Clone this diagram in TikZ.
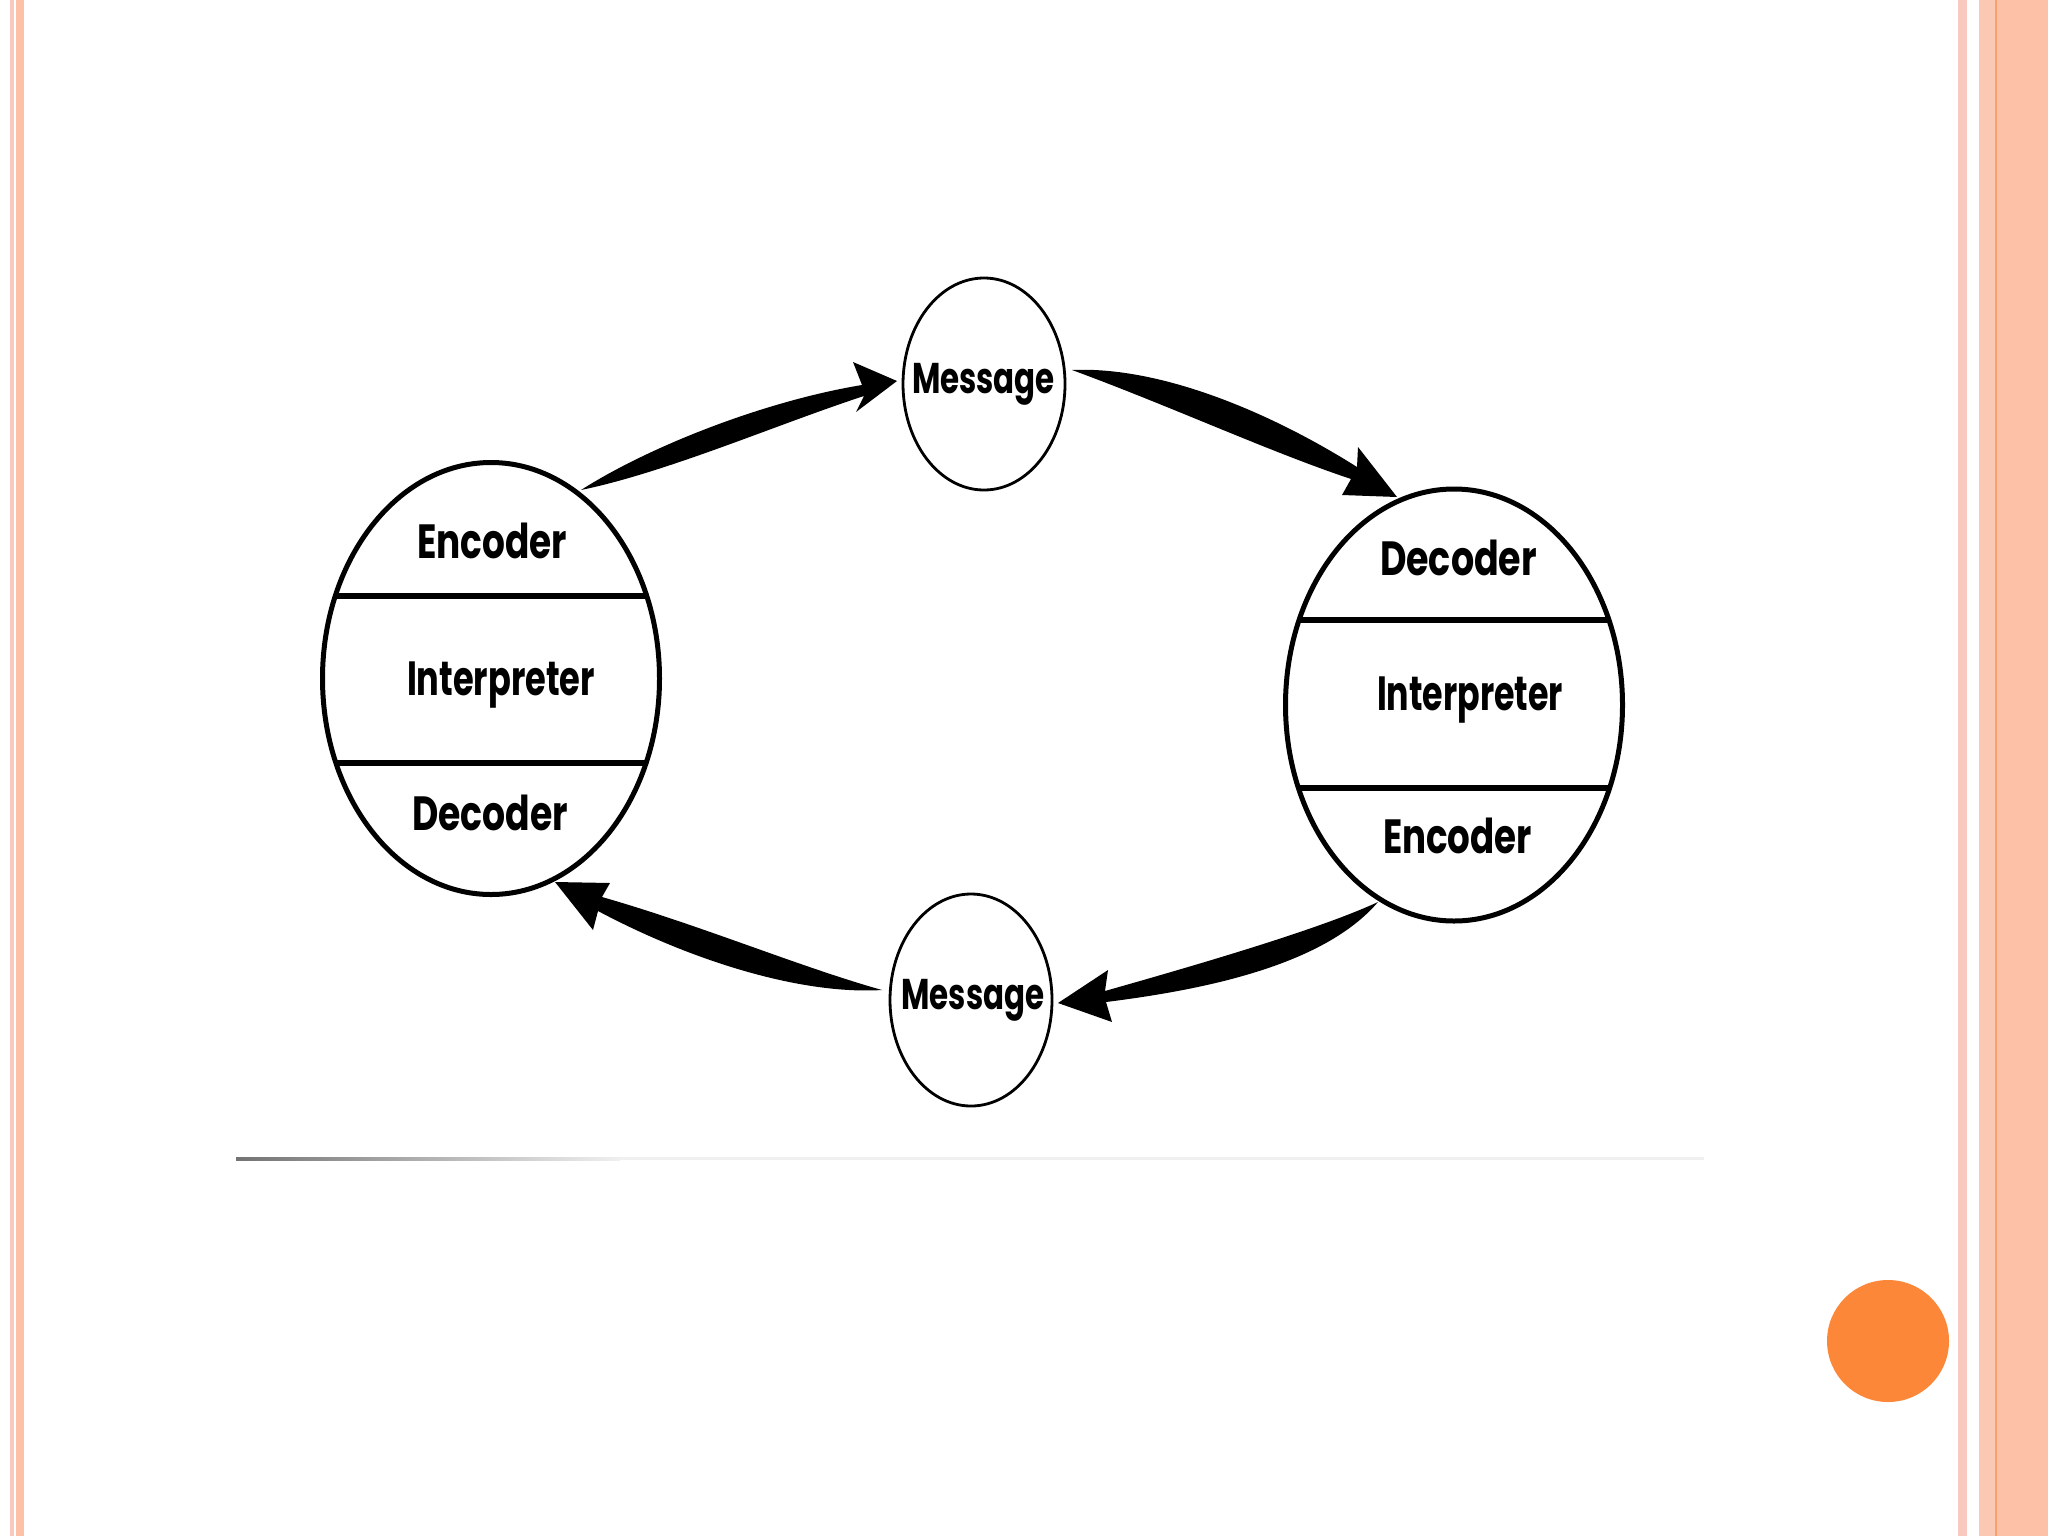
\documentclass[tikz,border=0pt]{standalone}
\usepackage{fontspec}
\setmainfont{Poppins}
\usepackage{graphicx}
\usetikzlibrary{shapes.geometric}
\definecolor{stripePink}{HTML}{F9C8BF}
\definecolor{stripeSalmon}{HTML}{FDC1A7}
\definecolor{stripeLight}{HTML}{FBC9B3}
\definecolor{stripeLine}{HTML}{F7A273}
\definecolor{dotOrange}{HTML}{FC8738}
\newcommand\fitw[2]{\resizebox{#1pt}{\height}{#2}}
\begin{document}
\begin{tikzpicture}[x=0.5pt,y=-0.5pt,
  bigell/.style={ellipse, draw=black, line width=2.5pt, inner sep=0pt, minimum width=168.5pt, minimum height=216pt},
  msgell/.style={ellipse, draw=black, line width=1.4pt, inner sep=0pt, minimum width=81pt, minimum height=106pt},
  lbl/.style={anchor=base, inner sep=0pt, font=\fontsize{24}{28}\selectfont\bfseries},
  divider/.style={line width=3pt},
  arrowfill/.style={fill=black}]
\useasboundingbox (0,0) rectangle (2048,1536);
\fill[white] (0,0) rectangle (2048,1536);
% side stripes
\fill[stripePink] (10,0) rectangle (13.5,1536);
\fill[stripeSalmon] (16,0) rectangle (24,1536);
\fill[stripePink] (1958,0) rectangle (1967,1536);
\fill[stripeLight] (1979,0) rectangle (1995,1536);
\fill[stripeLine] (1995,0) rectangle (1997,1536);
\fill[stripeSalmon] (1997,0) rectangle (2048,1536);
% bottom rule
\shade[left color=black!55, right color=black!6] (236,1157) rectangle (620,1160);
\fill[black!6] (620,1157) rectangle (1704,1160);
% orange dot
\fill[dotOrange] (1888,1341) circle [radius=61];

% dividers (clipped to ellipses)
\begin{scope}
\clip (491,678.5) ellipse [x radius=168.5, y radius=216];
\draw[divider] (300,596) -- (700,596);
\draw[divider] (300,763) -- (700,763);
\end{scope}
\begin{scope}
\clip (1454,705) ellipse [x radius=168.5, y radius=216];
\draw[divider] (1260,620) -- (1650,620);
\draw[divider] (1260,788) -- (1650,788);
\end{scope}

% ellipses
\node[bigell] (L) at (491,678.5) {};
\node[bigell] (R) at (1454,705) {};
\node[msgell] (M1) at (984,384) {};
\node[msgell] (M2) at (971,1000) {};

% labels
\node[lbl] (L1) at (492,558) {\fitw{75}{Encoder}};
\node[lbl] (L2) at (501,695) {\fitw{94}{Interpreter}};
\node[lbl] (L3) at (490,830) {\fitw{78}{Decoder}};
\node[lbl] (R1) at (1458.5,575) {\fitw{78.5}{Decoder}};
\node[lbl] (R2) at (1470,710) {\fitw{93}{Interpreter}};
\node[lbl] (R3) at (1457.5,853) {\fitw{74.5}{Encoder}};
\node[lbl, font=\fontsize{21.5}{25}\selectfont\bfseries] (T1) at (983.5,393) {\fitw{71.5}{Message}};
\node[lbl, font=\fontsize{21.5}{25}\selectfont\bfseries] (T2) at (973,1009) {\fitw{71.5}{Message}};

% connector end points
\coordinate (tA) at (581,490);
\coordinate (hA) at (897,381);
\coordinate (tB) at (1072,370);
\coordinate (hB) at (1397,497);
\coordinate (tC) at (1378,902);
\coordinate (hC) at (1058,1003);
\coordinate (tD) at (882,990);
\coordinate (hD) at (555,882);

% arrow L -> M1
\fill[arrowfill] (tA) .. controls (650,446) and (765,401) .. (862,385)
  -- (853,362) -- (hA) -- (856,412) -- (864,396)
  .. controls (778,424) and (668,472) .. (tA) -- cycle;
% arrow M1 -> R
\fill[arrowfill] (tB) .. controls (1160,366) and (1270,412) .. (1357,467)
  -- (1358,447) -- (hB) -- (1342,495) -- (1351,479)
  .. controls (1270,452) and (1170,406) .. (tB) -- cycle;
% arrow R -> M2
\fill[arrowfill] (tC) .. controls (1320,929) and (1200,964) .. (1105,991)
  -- (1108,970) -- (hC) -- (1112,1022) -- (1106,1002)
  .. controls (1210,989) and (1325,964) .. (tC) -- cycle;
% arrow M2 -> L
\fill[arrowfill] (tD) .. controls (800,967) and (700,925) .. (602,897)
  -- (610,883) -- (hD) -- (593,930) -- (598,911)
  .. controls (690,960) and (800,995) .. (tD) -- cycle;
\end{tikzpicture}
\end{document}
